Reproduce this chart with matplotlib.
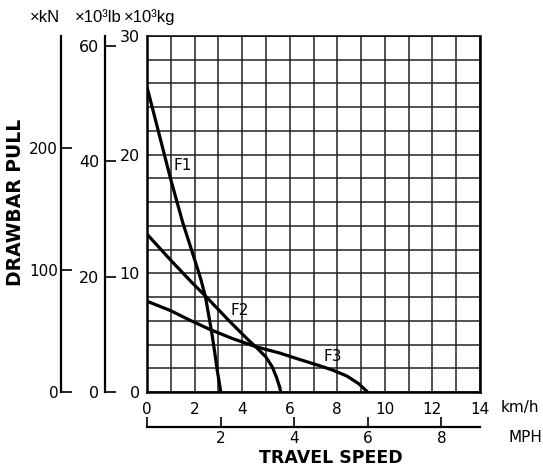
import numpy as np
import matplotlib
matplotlib.use("Agg")
import matplotlib.pyplot as plt

plt.rcParams['font.family'] = ['DejaVu Sans']

# curves: travel speed (km/h) vs drawbar pull (x10^3 kg)
f1_speed = [0, 0.5, 1.0, 1.5, 1.9, 2.25, 2.46, 2.6, 2.73, 2.85, 2.95, 3.03, 3.1]
f1_pull = [25.7, 21.8, 17.9, 14.3, 11.8, 9.6, 8.0, 6.4, 4.9, 3.3, 1.85, 0.9, 0]

f2_speed = [0, 0.5, 1.0, 1.9, 2.5, 3.5, 4.2, 4.6, 5.0, 5.27, 5.45, 5.58, 5.62]
f2_pull = [13.3, 12.2, 11.1, 9.2, 8.0, 5.9, 4.5, 3.75, 2.95, 2.1, 1.2, 0.4, 0]

f3_speed = [0, 1.0, 1.75, 2.67, 3.6, 4.6, 5.55, 6.4, 7.2, 7.8, 8.4, 8.9, 9.27]
f3_pull = [7.65, 6.85, 6.1, 5.25, 4.5, 3.8, 3.3, 2.75, 2.25, 1.85, 1.35, 0.7, 0]

curve_labels = ["F1", "F2", "F3"]
label_pos = [(1.5, 19.1), (3.9, 6.9), (7.8, 3.0)]

kmh_ticks = [0, 2, 4, 6, 8, 10, 12, 14]
mph_ticks = [2, 4, 6, 8]
kg_ticks = [0, 10, 20, 30]
kn_ticks = [0, 100, 200]
lb_ticks = [0, 20, 40, 60]
unit_labels = ['×kN', '×10³lb', '×10³kg']

W, H = 543, 469
fig = plt.figure(figsize=(W / 100, H / 100), dpi=100)

def fx(px):
    return px / W

def fy(py):
    return 1 - py / H

left, right, top, bottom = 147, 480, 36, 392
ax = fig.add_axes([fx(left), fy(bottom), fx(right - left), fy(top) - fy(bottom)])
ax.set_xlim(0, 14)
ax.set_ylim(0, 30)
ax.set_xticks(kmh_ticks, labels=[str(t) for t in kmh_ticks])
ax.set_xticks(np.arange(0, 15, 1), minor=True)
ax.set_yticks(kg_ticks, labels=[str(t) for t in kg_ticks])
ax.set_yticks(np.arange(0, 31, 2), minor=True)
ax.grid(True, which='both', color='#222222', linewidth=1.1)
ax.tick_params(which='both', length=0)
ax.tick_params(axis='x', labelsize=11, pad=7)
ax.tick_params(axis='y', labelsize=11.5, pad=5)
for s in ['left', 'bottom', 'right']:
    ax.spines[s].set_linewidth(1.8)
ax.spines['top'].set_linewidth(1.1)

for sp, pl in [(f1_speed, f1_pull), (f2_speed, f2_pull), (f3_speed, f3_pull)]:
    ax.plot(sp, pl, color='black', linewidth=2.3, solid_joinstyle='round',
            solid_capstyle='butt', zorder=3)
for lab, (x, y) in zip(curve_labels, label_pos):
    ax.text(x, y, lab, fontsize=11, ha='center', va='center', zorder=4)

# extra vertical scales on the left
def side_axis(px, ymax, ticks, pad, size):
    a = fig.add_axes([fx(px), fy(bottom), 0.0001, fy(top) - fy(bottom)])
    a.set_ylim(0, ymax)
    a.set_xticks([])
    a.set_yticks(ticks, labels=[str(t) for t in ticks])
    for s in ['top', 'right', 'bottom']:
        a.spines[s].set_visible(False)
    a.spines['left'].set_linewidth(1.6)
    a.patch.set_visible(False)
    a.tick_params(axis='y', direction='in', length=8, width=1.2,
                  labelsize=size, pad=pad)
    return a

side_axis(61, 291.5, kn_ticks, 2, 11)
side_axis(105, 61.75, lb_ticks, 4, 11.5)

# MPH scale below
mph = fig.add_axes([fx(left), fy(427), fx(right - left), 0.0001])
mph.set_xlim(0, 9.05)
mph.set_yticks([])
mph.set_xticks([0] + mph_ticks, labels=[''] + [str(t) for t in mph_ticks])
for s in ['top', 'right', 'left']:
    mph.spines[s].set_visible(False)
mph.spines['bottom'].set_linewidth(1.6)
mph.patch.set_visible(False)
mph.tick_params(axis='x', direction='in', length=7, width=1.2, labelsize=11, pad=3)

fig.text(fx(520), fy(407), 'km/h', fontsize=11, ha='center', va='center')
fig.text(fx(525), fy(437), 'MPH', fontsize=11, ha='center', va='center')
fig.text(fx(331), fy(458), 'TRAVEL SPEED', fontsize=12.5, fontweight='bold',
         ha='center', va='center')
fig.text(fx(16), fy(202), 'DRAWBAR PULL', fontsize=13.5, fontweight='bold',
         ha='center', va='center', rotation=90)

for lab, px in zip(unit_labels, [45, 98, 150]):
    fig.text(fx(px), fy(17), lab, fontsize=12, ha='center', va='center',
             family=['Liberation Sans', 'DejaVu Sans'])

fig.savefig('out.png', dpi=100)
